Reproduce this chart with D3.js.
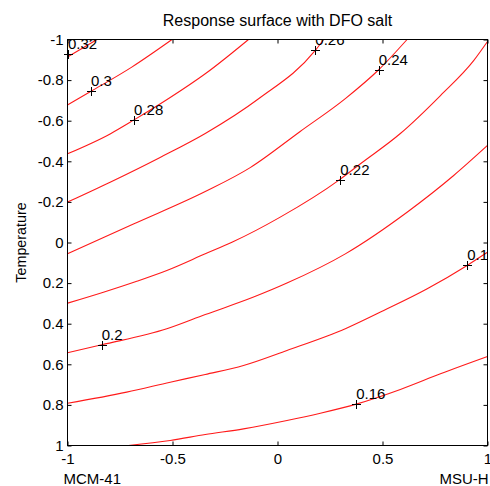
<!DOCTYPE html>
<html>
<head>
<meta charset="utf-8">
<script src="https://cdn.jsdelivr.net/npm/d3@7"></script>
<style>
  body { margin: 0; background: #fff; }
  svg { display: block; font-family: "Liberation Sans", Arial, sans-serif; }
  .tick line { stroke: #000; }
  .tick text { fill: #000; font-size: 15px; }
</style>
</head>
<body>
<svg width="490" height="486"></svg>
<script>
// axis ticks
var xTicks = [-1, -0.5, 0, 0.5, 1];
var yTicks = [-1, -0.8, -0.6, -0.4, -0.2, 0, 0.2, 0.4, 0.6, 0.8, 1];

// contour levels and their traced points [MCM-41/MSU-H, Temperature]
var levels = [0.32, 0.30, 0.28, 0.26, 0.24, 0.22, 0.20, 0.18, 0.16];
var contour032 = [[-1, -0.914], [-0.859, -1]];
var contour030 = [[-1, -0.678], [-0.888, -0.745], [-0.694, -0.864], [-0.502, -1]];
var contour028 = [[-1, -0.437], [-0.797, -0.535], [-0.683, -0.604], [-0.511, -0.714], [-0.344, -0.831], [-0.138, -1]];
var contour026 = [[-1, -0.199], [-0.797, -0.297], [-0.559, -0.419], [-0.344, -0.537], [-0.090, -0.708], [0.180, -0.946], [0.220, -1]];
var contour024 = [[-1, 0.056], [-0.686, -0.091], [-0.344, -0.251], [-0.130, -0.369], [0.108, -0.547], [0.323, -0.709], [0.482, -0.851], [0.617, -1]];
var contour022 = [[-1, 0.299], [-0.829, 0.245], [-0.670, 0.191], [-0.527, 0.138], [-0.344, 0.056], [-0.217, -0.001], [0.013, -0.125], [0.296, -0.310], [0.395, -0.388], [0.585, -0.537], [0.776, -0.724], [0.935, -0.897], [1, -0.99]];
var contour020 = [[-1, 0.543], [-0.837, 0.504], [-0.527, 0.425], [-0.344, 0.355], [-0.114, 0.269], [0.045, 0.200], [0.323, 0.056], [0.617, -0.149], [0.839, -0.330], [1, -0.478]];
var contour018 = [[-1, 0.792], [-0.718, 0.737], [-0.511, 0.688], [-0.344, 0.650], [-0.162, 0.606], [0.045, 0.532], [0.323, 0.425], [0.506, 0.335], [0.713, 0.228], [0.903, 0.113], [1, 0.048]];
var contour016 = [[-0.710, 1], [-0.511, 0.975], [-0.344, 0.946], [-0.162, 0.918], [0.045, 0.877], [0.204, 0.841], [0.379, 0.795], [0.585, 0.724], [0.776, 0.647], [1, 0.562]];
var contours = [contour032, contour030, contour028, contour026, contour024, contour022, contour020, contour018, contour016];

// where clabel put its "+" for each level
var labelPoints = [[-0.998, -0.931], [-0.888, -0.745], [-0.683, -0.604], [0.180, -0.946], [0.482, -0.851],
                   [0.299, -0.309], [-0.837, 0.504], [0.903, 0.113], [0.375, 0.798]];

var svg = d3.select("svg");

var x = d3.scaleLinear().domain([-1, 1]).range([67.5, 487.5]);
var y = d3.scaleLinear().domain([-1, 1]).range([39.5, 445.5]); // temperature runs downward

svg.append("defs").append("clipPath")
    .attr("id", "plot-clip")
  .append("rect")
    .attr("x", x(-1)).attr("y", y(-1))
    .attr("width", x(1) - x(-1)).attr("height", y(1) - y(-1));

// contour lines
var line = d3.line()
    .x(function(d) { return x(d[0]); })
    .y(function(d) { return y(d[1]); })
    .curve(d3.curveMonotoneX);

svg.append("g")
    .attr("clip-path", "url(#plot-clip)")
  .selectAll("path")
    .data(contours)
    .enter()
    .append("path")
      .attr("d", line)
      .attr("fill", "none")
      .attr("stroke", "#ff1a1a")
      .attr("stroke-width", 1.1);

// contour labels: + marker and value
var labels = svg.append("g");

labels.selectAll("path")
    .data(labelPoints)
    .enter()
    .append("path")
      .attr("d", function(d) {
          var cx = Math.round(x(d[0])) + 0.5, cy = Math.round(y(d[1])) + 0.5;
          return "M" + (cx - 4.5) + "," + cy + "H" + (cx + 4.5) + "M" + cx + "," + (cy - 4.5) + "V" + (cy + 4.5);
      })
      .attr("stroke", "#000")
      .attr("stroke-width", 1);

svg.append("g")
    .attr("clip-path", "url(#plot-clip)")
  .selectAll("text")
    .data(labelPoints)
    .enter()
    .append("text")
      .attr("x", function(d) { return x(d[0]); })
      .attr("y", function(d) { return y(d[1]) - 5; })
      .attr("font-size", "15px")
      .attr("fill", "#000")
      .text(function(d, i) { return String(levels[i]); });

// axes, ticks pointing inward on all four sides
svg.append("g")
    .attr("transform", "translate(0," + y(1) + ")")
    .call(d3.axisBottom(x).tickValues(xTicks).tickSize(-4).tickPadding(8).tickFormat(function(d) { return String(d); }))
    .call(function(g) { g.select(".domain").remove(); });

svg.append("g")
    .attr("transform", "translate(" + x(-1) + ",0)")
    .call(d3.axisLeft(y).tickValues(yTicks).tickSize(-4).tickPadding(4).tickFormat(function(d) { return String(d); }))
    .call(function(g) { g.select(".domain").remove(); });

svg.append("g")
    .attr("transform", "translate(0," + y(-1) + ")")
    .call(d3.axisTop(x).tickValues(xTicks).tickSize(-4).tickFormat(""))
    .call(function(g) { g.select(".domain").remove(); });

svg.append("g")
    .attr("transform", "translate(" + x(1) + ",0)")
    .call(d3.axisRight(y).tickValues(yTicks).tickSize(-4).tickFormat(""))
    .call(function(g) { g.select(".domain").remove(); });

svg.selectAll(".tick text").attr("font-family", null).attr("font-size", null);

// box
svg.append("rect")
    .attr("x", x(-1)).attr("y", y(-1))
    .attr("width", x(1) - x(-1)).attr("height", y(1) - y(-1))
    .attr("fill", "none")
    .attr("stroke", "#000")
    .attr("stroke-width", 1);

// titles
svg.append("text")
    .attr("x", (x(-1) + x(1)) / 2)
    .attr("y", 26)
    .attr("text-anchor", "middle")
    .attr("font-size", "16px")
    .text("Response surface with DFO salt");

svg.append("text")
    .attr("transform", "translate(26," + ((y(-1) + y(1)) / 2) + ") rotate(-90)")
    .attr("text-anchor", "middle")
    .attr("font-size", "14.3px")
    .text("Temperature");

svg.append("text")
    .attr("x", 63.5)
    .attr("y", 483.5)
    .attr("font-size", "15px")
    .text("MCM-41");

svg.append("text")
    .attr("x", 439.5)
    .attr("y", 483.5)
    .attr("font-size", "15px")
    .text("MSU-H");
</script>
</body>
</html>
